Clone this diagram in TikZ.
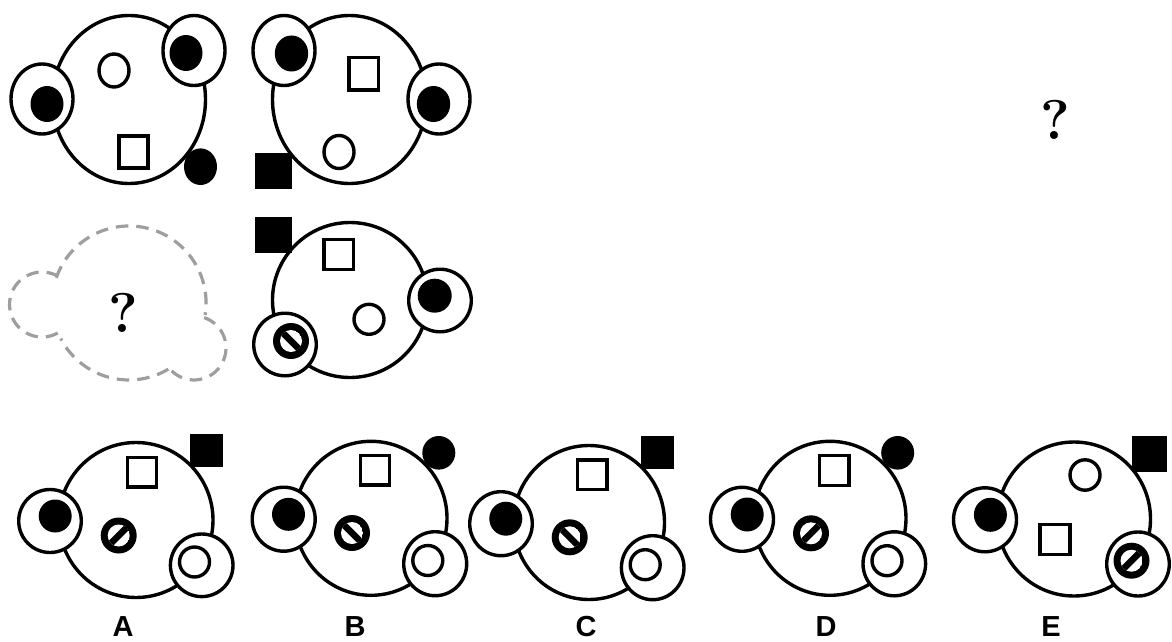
\documentclass[tikz,border=0pt]{standalone}
\usepackage{fontspec}
\setsansfont{Liberation Sans}
\tikzset{
  lineshape/.style={draw=black,line width=3.4pt,fill=white},
  solidshape/.style={fill=black,draw=none},
  dashedge/.style={draw=black!38,line width=3.2pt,dash pattern=on 12.5pt off 8pt},
  optlabel/.style={font=\sffamily\fontsize{29}{29}\selectfont\bfseries,anchor=base,inner sep=0pt},
  qmark/.style={font=\rmfamily\fontsize{56}{56}\selectfont\bfseries,inner sep=0pt}
}
% outline ellipse, solid ellipse, outline square, solid square, barred disc
\newcommand\outE[4]{\path[lineshape] (#1,#2) ellipse [x radius=#3,y radius=#4];}
\newcommand\solE[4]{\path[solidshape] (#1,#2) ellipse [x radius=#3,y radius=#4];}
\newcommand\outS[4]{\path[lineshape] (#1,#2) rectangle (#3,#4);}
\newcommand\solS[4]{\path[solidshape] (#1,#2) rectangle (#3,#4);}
\newcommand\barD[3]{%
  \path[solidshape] (#1,#2) circle [radius=18];
  \begin{scope}
    \clip (#1,#2) circle [radius=11];
    \fill[white] (#1,#2) circle [radius=11];
    \draw[black,line width=6.5pt] ({#1-#3*14},{#2+14}) -- ({#1+#3*14},{#2-14});
  \end{scope}}
\begin{document}
\begin{tikzpicture}[x=1pt,y=1pt,yscale=-1]
\useasboundingbox (0,0) rectangle (1172,642);
% figure 1
\outE{129}{99.5}{76.5}{84}
\outE{194}{50.5}{31}{35}
\solE{186}{53}{16.5}{18}
\outE{42}{99}{31}{35}
\solE{47}{104}{16.5}{18}
\outE{114}{70.5}{15}{16.5}
\outS{119}{136}{148}{168}
\solE{200.5}{166.7}{16.5}{18.3}
% figure 2
\outE{349.5}{99.5}{77}{84}
\outE{284}{50.5}{31}{35}
\solE{291.5}{53.5}{16.7}{18}
\outE{439}{99}{31}{35}
\solE{433.5}{104}{16.7}{18}
\outS{349}{57.5}{378.5}{90}
\outE{339}{152}{15}{16.5}
\solS{255.3}{152.7}{291.7}{189}
% figure 3, dashed
\draw[dashedge]
  (56.3,277.8) arc [start angle=199.1,end angle=369,radius=77]
  (204.1,317.6) arc [start angle=-71.6,end angle=135,radius=32]
  (168.3,369.2) arc [start angle=59.3,end angle=152.4,radius=77]
  (57.7,333) arc [start angle=61.2,end angle=299.5,radius=32.5];
\node[qmark] (q1) at (123,313) {?};
% figure 4
\outE{350}{300}{77.5}{77.5}
\solS{255.3}{216.7}{291.7}{252.7}
\outS{324}{239.5}{353.5}{269.5}
\outE{369}{319.3}{15}{15}
\outE{440}{300.5}{31.3}{31.3}
\solE{434.7}{295.7}{17}{17}
\outE{285}{344.5}{31.3}{31.3}
\barD{291}{341}{-1}
% question mark, top right
\node[qmark] (q2) at (1055,120) {?};
% option A
\outE{136}{520}{77}{77.5}
\solS{190.3}{434}{223}{467.3}
\outS{127.2}{457.5}{156.2}{487}
\outE{50}{521}{31.3}{31.5}
\solE{55.2}{516}{16.5}{16.5}
\barD{118.7}{535.5}{1}
\outE{201.7}{565.3}{31.3}{31.3}
\outE{194.5}{562}{15}{15}
\node[optlabel] (la) at (123,636.5) {A};
% option B
\outE{371}{518.3}{76}{77}
\solE{438.8}{452.8}{16.5}{16.8}
\outS{360.5}{455.5}{389.5}{485}
\outE{283.7}{519.2}{31.5}{32}
\solE{288.5}{514.3}{16.5}{16.5}
\barD{352}{533}{-1}
\outE{435.2}{563.7}{31.5}{32}
\outE{427.8}{560.5}{15}{15}
\node[optlabel] (lb) at (355,636.5) {B};
% option C
\outE{589}{522.5}{75.5}{77}
\solS{641.4}{436}{674}{469.3}
\outS{577.5}{459.8}{607}{489.2}
\outE{501}{523.7}{31.3}{32}
\solE{505.8}{518.7}{16.5}{17}
\barD{569.7}{537.3}{-1}
\outE{652.7}{567.7}{31.3}{32}
\outE{645.2}{564.7}{15}{15}
\node[optlabel] (lc) at (586,636.5) {C};
% option D
\outE{830}{518.3}{76}{77}
\solE{897.7}{452.8}{16.5}{16.8}
\outS{819.2}{455.5}{849}{485.2}
\outE{742}{519.3}{31.5}{32}
\solE{747.2}{514.5}{16.5}{17}
\barD{811}{533.3}{1}
\outE{894.3}{563.8}{31.3}{32}
\outE{887}{560.7}{15}{15}
\node[optlabel] (ld) at (826,636.5) {D};
% option E
\outE{1074}{519}{76.5}{77}
\solS{1131.8}{436}{1167.3}{472}
\outE{1085}{475}{15}{15.2}
\outS{1040}{524.5}{1070}{554.2}
\outE{985}{519.8}{31.5}{32}
\solE{990.4}{514.8}{16.5}{17}
\outE{1138}{564}{31.3}{32}
\barD{1131.5}{560.7}{1}
\node[optlabel] (le) at (1051,636.5) {E};
\end{tikzpicture}
\end{document}
